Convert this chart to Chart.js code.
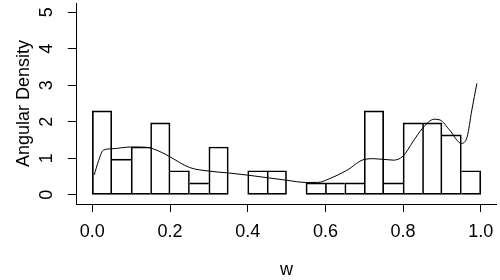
<!DOCTYPE html>
<html><head><meta charset="utf-8">
<script src="https://cdn.jsdelivr.net/npm/chart.js@4.4.1/dist/chart.umd.min.js"></script>
<style>html,body{margin:0;padding:0;background:#fff;}canvas{display:block;}</style>
</head><body>
<canvas id="c" width="500" height="280"></canvas>
<script>
// Histogram bins (centers, width 0.05) and their densities
const binCenters = [0.025,0.075,0.125,0.175,0.225,0.275,0.325,0.375,0.425,0.475,
                    0.525,0.575,0.625,0.675,0.725,0.775,0.825,0.875,0.925,0.975];
const densities  = [2.30,0.98,1.31,1.97,0.66,0.33,1.31,0,0.66,0.66,
                    0,0.33,0.33,0.33,2.30,0.33,1.97,1.97,1.64,0.66];
// Kernel density curve
const curveX = [0.005,0.015,0.028,0.05,0.10,0.14,0.175,0.20,0.25,0.30,0.35,0.40,0.45,0.50,0.55,0.58,0.61,0.655,0.70,0.725,0.775,0.80,0.825,0.85,0.88,0.895,0.92,0.95,0.965,0.977,0.99];
const curveY = [0.55,0.90,1.22,1.26,1.31,1.30,1.18,1.04,0.75,0.65,0.60,0.54,0.47,0.40,0.34,0.34,0.44,0.67,0.97,0.99,0.95,1.06,1.45,1.82,2.07,2.05,1.77,1.41,1.59,2.32,3.05];
const xTicks = [0,0.2,0.4,0.6,0.8,1.0];
const yTicks = [0,1,2,3,4,5];
const xTitle = 'w';
const yTitle = 'Angular Density';

const FONT = {family:'"Liberation Sans", Arial, sans-serif', size:18};
function zeroPad(s){ s.paddingLeft = 0; s.paddingRight = 0; s.paddingTop = 0; s.paddingBottom = 0; }

new Chart(document.getElementById('c'), {
  data: {
    datasets: [
      {
        type:'line', order:0,
        data: curveX.map((v,i)=>({x:v, y:curveY[i]})),
        borderColor:'#000', borderWidth:1, pointRadius:0,
        cubicInterpolationMode:'monotone', fill:false
      },
      {
        type:'bar', order:1,
        data: binCenters.map((v,i)=>({x:v, y:densities[i]})),
        backgroundColor:'rgba(255,255,255,0)', borderColor:'#000',
        borderSkipped:false,
        borderWidth: (c)=>{
          const i = c.dataIndex, v = densities[i];
          const prev = i>0 ? densities[i-1] : -1;
          const next = i<densities.length-1 ? densities[i+1] : -1;
          return {top:1, bottom:1, left: prev<=v?1:0, right: next<v?1:0};
        },
        barPercentage:1, categoryPercentage:1, grouped:false
      }
    ]
  },
  options: {
    responsive:false, animation:false,
    layout:{padding:{top:3, right:3.7, left:0, bottom:0}},
    plugins:{legend:{display:false}, tooltip:{enabled:false}},
    scales:{
      x:{
        type:'linear', min:-0.04, max:1.04, offset:false,
        afterBuildTicks:(s)=>{ s.ticks = xTicks.map(v=>({value:v})); },
        afterFit:(s)=>{ s.height = 76; zeroPad(s); },
        border:{display:true, color:'#000', width:1},
        grid:{display:true, offset:false, drawOnChartArea:false, drawTicks:true, tickLength:8, color:'#000', lineWidth:1},
        ticks:{color:'#000', font:FONT, padding:9, maxRotation:0, autoSkip:false,
               callback:(v)=>Number(v).toFixed(1)},
        title:{display:true, text:xTitle, color:'#000', font:FONT, padding:{top:0,bottom:-1}}
      },
      y:{
        type:'linear', min:-0.25, max:5.25, offset:false,
        afterBuildTicks:(s)=>{ s.ticks = yTicks.map(v=>({value:v})); },
        afterFit:(s)=>{ s.width = 76.8; zeroPad(s); },
        border:{display:true, color:'#000', width:1},
        grid:{display:true, offset:false, drawOnChartArea:false, drawTicks:true, tickLength:9, color:'#000', lineWidth:1},
        ticks:{color:'#000', font:FONT, padding:15.7, minRotation:90, maxRotation:90, crossAlign:'center', autoSkip:false,
               callback:(v)=>String(v)},
        title:{display:true, text:yTitle, color:'#000', font:FONT, padding:{top:13,bottom:0}}
      }
    }
  }
});
</script>
</body></html>
